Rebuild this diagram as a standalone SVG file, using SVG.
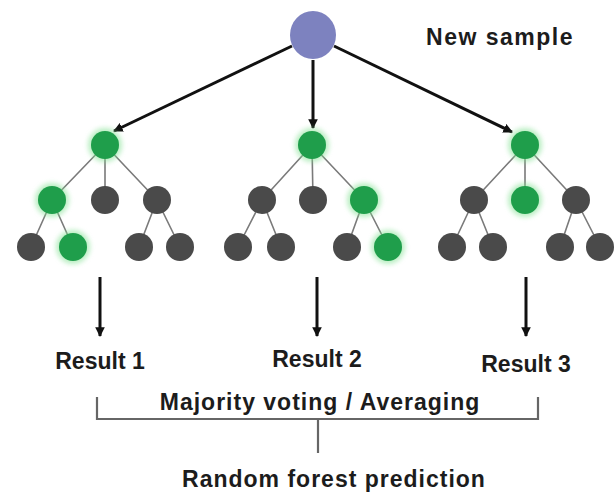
<svg xmlns="http://www.w3.org/2000/svg" width="614" height="496" viewBox="0 0 614 496">
<defs>
<marker id="ah" viewBox="0 0 10 10" refX="9" refY="5" markerWidth="3.2" markerHeight="3.2" orient="auto" markerUnits="strokeWidth">
<path d="M0,0 L10,5 L0,10 z" fill="#111"/>
</marker>
<filter id="glow" x="-50%" y="-50%" width="200%" height="200%">
<feGaussianBlur stdDeviation="2.5"/>
</filter>
</defs>
<style>
.bg{fill:#ffffff}
.edge{stroke:#7a7a7a;stroke-width:1.6;fill:none}
.arrow{stroke:#111;stroke-width:3;fill:none;marker-end:url(#ah)}
.g{fill:#1f9e4b}
.halo{fill:#7fe08f;opacity:0.55;filter:url(#glow)}
.k{fill:#4a4a4a}
.root{fill:#7d82bf}
.lbl{font-family:"Liberation Sans",Arial,sans-serif;font-weight:bold;font-size:23px;fill:#1c1c1c;text-anchor:middle}
.br{stroke:#666;stroke-width:2.2;fill:none}
</style>
<rect class="bg" x="0" y="0" width="614" height="496"/>

<g id="connectors">
<line class="arrow" x1="292" y1="46" x2="114" y2="131"/>
<line class="arrow" x1="313" y1="60" x2="313" y2="128"/>
<line class="arrow" x1="334" y1="46" x2="512" y2="132"/>
<line class="arrow" x1="100" y1="277" x2="100" y2="336"/>
<line class="arrow" x1="317" y1="277" x2="317" y2="336"/>
<line class="arrow" x1="526" y1="277" x2="526" y2="336"/>
<path class="br" d="M97,397 V419 H538 V397"/>
<line class="br" x1="318" y1="419" x2="318" y2="453"/>
<!-- tree edges -->
<path class="edge" d="M105,145 L52,200 M105,145 L105,200 M105,145 L157,200 M52,200 L31,247 M52,200 L73,247 M157,200 L139,247 M157,200 L180,247"/>
<path class="edge" d="M312,145 L262,200 M312,145 L313,200 M312,145 L364,200 M262,200 L238,247 M262,200 L281,247 M364,200 L347,247 M364,200 L388,247"/>
<path class="edge" d="M525,145 L474,200 M525,145 L525,200 M525,145 L576,200 M474,200 L452,247 M474,200 L493,247 M576,200 L560,247 M576,200 L600,247"/>
</g>

<g id="root"><ellipse class="root" cx="313" cy="35" rx="23" ry="24"/></g>
<g id="new-sample"><text class="lbl" x="500" y="45" font-size="22" letter-spacing="1.5">New sample</text></g>

<g id="tree1">
<circle class="halo" cx="105" cy="145" r="17"/><circle class="g" cx="105" cy="145" r="14"/>
<circle class="halo" cx="52" cy="200" r="17"/><circle class="g" cx="52" cy="200" r="14"/>
<circle class="k" cx="105" cy="200" r="14"/>
<circle class="k" cx="157" cy="200" r="14"/>
<circle class="k" cx="31" cy="247" r="14"/>
<circle class="halo" cx="73" cy="247" r="17"/><circle class="g" cx="73" cy="247" r="14"/>
<circle class="k" cx="139" cy="247" r="14"/>
<circle class="k" cx="180" cy="247" r="14"/>
</g>

<g id="tree2">
<circle class="halo" cx="312" cy="145" r="17"/><circle class="g" cx="312" cy="145" r="14"/>
<circle class="k" cx="262" cy="200" r="14"/>
<circle class="k" cx="313" cy="200" r="14"/>
<circle class="halo" cx="364" cy="200" r="17"/><circle class="g" cx="364" cy="200" r="14"/>
<circle class="k" cx="238" cy="247" r="14"/>
<circle class="k" cx="281" cy="247" r="14"/>
<circle class="k" cx="347" cy="247" r="14"/>
<circle class="halo" cx="388" cy="247" r="17"/><circle class="g" cx="388" cy="247" r="14"/>
</g>

<g id="tree3">
<circle class="halo" cx="525" cy="145" r="17"/><circle class="g" cx="525" cy="145" r="14"/>
<circle class="k" cx="474" cy="200" r="14"/>
<circle class="halo" cx="525" cy="200" r="17"/><circle class="g" cx="525" cy="200" r="14"/>
<circle class="k" cx="576" cy="200" r="14"/>
<circle class="k" cx="452" cy="247" r="14"/>
<circle class="k" cx="493" cy="247" r="14"/>
<circle class="k" cx="560" cy="247" r="14"/>
<circle class="k" cx="600" cy="247" r="14"/>
</g>

<g id="result1"><text class="lbl" x="100" y="369">Result 1</text></g>
<g id="result2"><text class="lbl" x="317" y="367">Result 2</text></g>
<g id="result3"><text class="lbl" x="526" y="372">Result 3</text></g>
<g id="aggregation"><text class="lbl" x="320" y="410" letter-spacing="1">Majority voting / Averaging</text></g>
<g id="prediction"><text class="lbl" x="334" y="487" letter-spacing="1">Random forest prediction</text></g>
</svg>
